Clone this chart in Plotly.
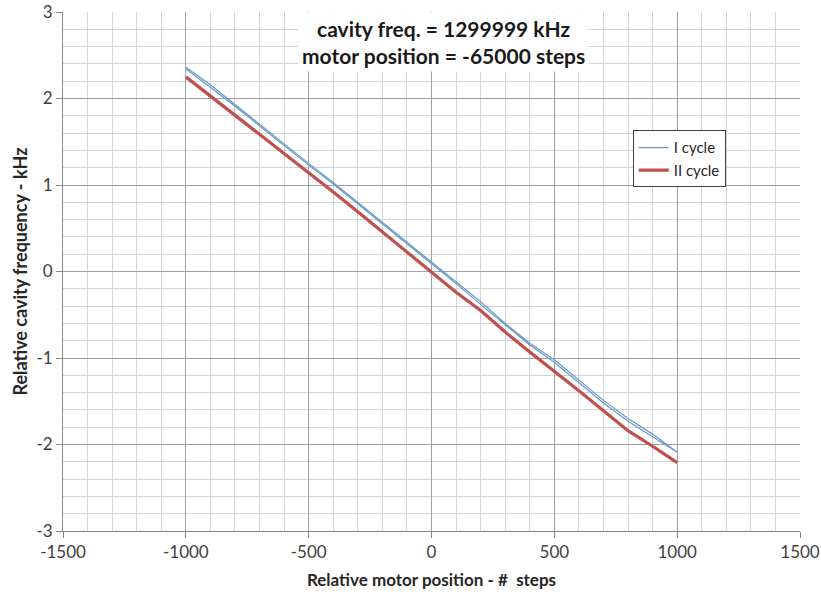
import plotly.graph_objects as go

# Motor position steps
steps = [-1000, -900, -800, -700, -600, -500, -400, -300, -200, -100, 0,
         100, 200, 300, 400, 500, 600, 700, 800, 900, 1000]

# I cycle: forward pass then return pass (kHz)
cycle1_fwd = [2.36, 2.16, 1.93, 1.70, 1.48, 1.25, 1.03, 0.80, 0.57, 0.35, 0.11,
              -0.12, -0.35, -0.60, -0.83, -1.02, -1.26, -1.49, -1.70, -1.88, -2.09]
cycle1_back = [2.34, 2.13, 1.91, 1.68, 1.46, 1.23, 1.01, 0.78, 0.55, 0.33, 0.09,
               -0.14, -0.38, -0.62, -0.85, -1.05, -1.29, -1.52, -1.73, -1.91, -2.09]

# II cycle (kHz)
cycle2 = [2.25, 2.03, 1.80, 1.59, 1.37, 1.15, 0.92, 0.69, 0.46, 0.23, -0.01,
          -0.24, -0.45, -0.70, -0.93, -1.15, -1.38, -1.61, -1.84, -2.02, -2.21]

# Tick labels (hyphen minus as in the original)
x_ticks = [-1500, -1000, -500, 0, 500, 1000, 1500]
x_ticktext = ["-1500", "-1000", "-500", "0", "500", "1000", "1500"]
y_ticks = [-3, -2, -1, 0, 1, 2, 3]
y_ticktext = ["-3", "-2", "-1", "0", "1", "2", "3"]

x1 = steps + steps[::-1]
y1 = cycle1_fwd + cycle1_back[::-1]

FONT = "Lato"

fig = go.Figure()
fig.add_trace(go.Scatter(x=x1, y=y1, mode="lines", name="I cycle",
                         line=dict(color="#6A9AC8", width=1.2)))
fig.add_trace(go.Scatter(x=steps, y=cycle2, mode="lines", name="II cycle",
                         line=dict(color="#C0504D", width=3.2)))

axis_common = dict(
    showline=True, linecolor="#868686", linewidth=1,
    ticks="outside", ticklen=6, tickcolor="#868686",
    showgrid=True, gridcolor="#A0A0A0", gridwidth=1,
    zeroline=False, automargin=False,
    tickfont=dict(family=FONT, size=17, color="#404040"),
)

fig.update_xaxes(range=[-1500, 1500], tickvals=x_ticks, ticktext=x_ticktext,
                 minor=dict(dtick=100, tick0=0, showgrid=True, gridcolor="#D4D4D4", gridwidth=1),
                 title=dict(text="<b>Relative motor position - #  steps</b>",
                            font=dict(family=FONT, size=17, color="#262626"), standoff=12),
                 **axis_common)
fig.update_yaxes(range=[-3, 3], tickvals=y_ticks, ticktext=y_ticktext,
                 minor=dict(dtick=0.2, tick0=0, showgrid=True, gridcolor="#D4D4D4", gridwidth=1),
                 title=dict(text="<b>Relative cavity frequency - kHz</b>",
                            font=dict(family=FONT, size=18, color="#262626"), standoff=4),
                 **axis_common)

fig.add_annotation(xref="paper", yref="paper", x=0.516, y=1.0,
                   xanchor="center", yanchor="top", showarrow=False,
                   text="<b>cavity freq. = 1299999 kHz</b><br><b>motor position = -65000 steps</b>",
                   font=dict(family=FONT, size=21, color="#1a1a1a"),
                   bgcolor="white", align="center", borderpad=3)

fig.update_layout(
    width=821, height=603,
    margin=dict(l=63, r=21, t=12, b=72),
    plot_bgcolor="white", paper_bgcolor="white",
    showlegend=True,
    legend=dict(x=0.773, y=0.772, xanchor="left", yanchor="top",
                bgcolor="white", bordercolor="#404040", borderwidth=1,
                font=dict(family=FONT, size=15, color="#262626"),
                itemwidth=30, tracegroupgap=0, entrywidth=72),
)

fig.write_html("out.html")
